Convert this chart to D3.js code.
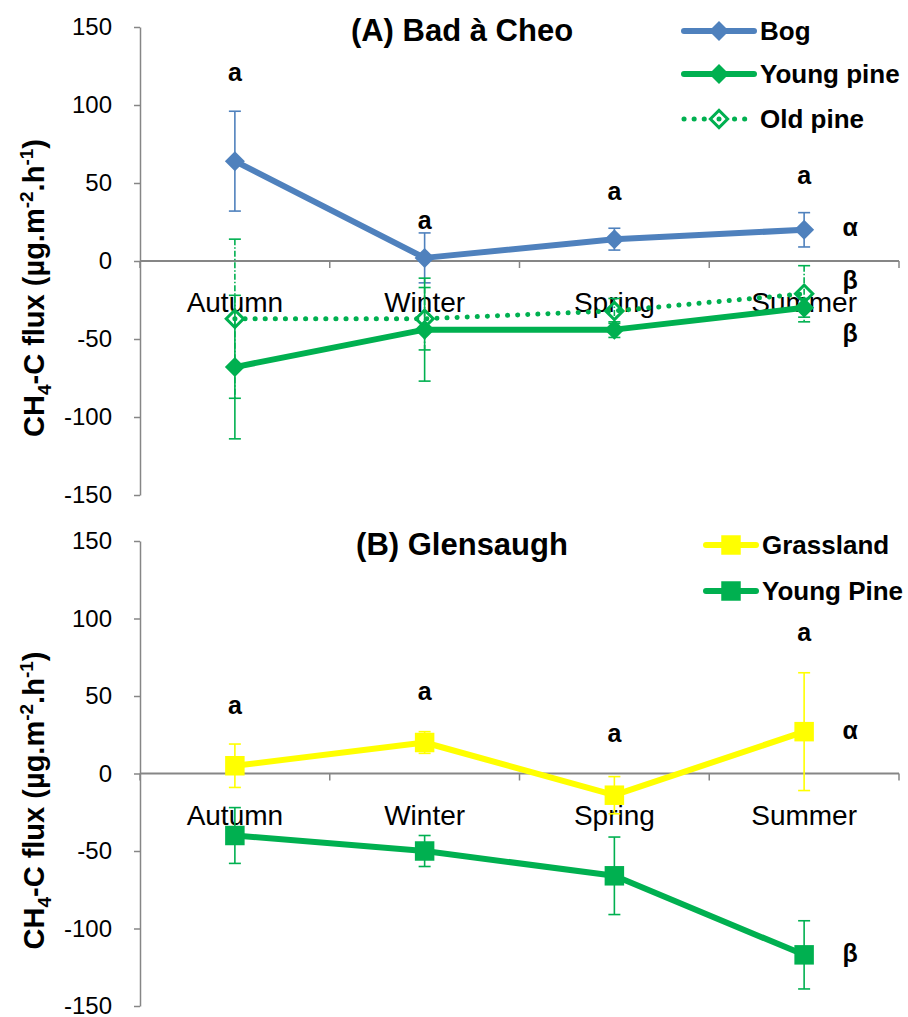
<!DOCTYPE html>
<html><head><meta charset="utf-8">
<script src="https://cdn.jsdelivr.net/npm/d3@7"></script>
<style>body{margin:0;background:#fff}svg{display:block}text{font-family:"Liberation Sans",Arial,sans-serif}</style>
</head><body>
<svg id="chart" width="908" height="1017"></svg>
<script>
const categories = ["Autumn","Winter","Spring","Summer"];
const yTicks = [-150,-100,-50,0,50,100,150];

// Panel A: Bad à Cheo
const bogMean = [64, 2, 14, 20];
const bogErr = [32, 16, 7, 11];
const youngPineAMean = [-68, -44, -44, -30];
const youngPineAErr = [46, 33, 5, 6];
const oldPineMean = [-37, -37, -32, -21];
const oldPineErr = [51, 20, 8, 18];
const lettersA = ["a","a","a","a"];
const lettersAValue = [121, 26, 45, 55];
const groupLabelsA = ["α","β","β"];
const groupLabelsAValue = [22, -12, -46];

// Panel B: Glensaugh
const grassMean = [5, 20, -14, 27];
const grassErr = [14, 7, 12, 38];
const youngPineBMean = [-40, -50, -66, -117];
const youngPineBErr = [18, 10, 25, 22];
const lettersB = ["a","a","a","a"];
const lettersBValue = [44, 53, 26, 91];
const groupLabelsB = ["α","β"];
const groupLabelsBValue = [28, -116];

const BLUE = "#4F81BD", GREEN = "#00B050", YELLOW = "#FFFF00", AXIS = "#868686";
const svg = d3.select("#chart");

function markerPath(s) {
  if (s.marker === "square") return d3.symbol().type(d3.symbolSquare).size(380)();
  return d3.symbol().type(d3.symbolSquare).size(s.open ? 150 : 200)();
}
function markerTransform(s, px, py) {
  return `translate(${px},${py})` + (s.marker === "square" ? "" : " rotate(45)");
}

function panel(cfg) {
  const g = svg.append("g");
  const x = d3.scaleBand().domain(categories).range([140, 899]);
  const cx = c => x(c) + x.bandwidth() / 2;
  const y = d3.scaleLinear().domain([-150, 150]).range([cfg.bottom, cfg.top]);

  // y axis
  const ya = g.append("g").attr("transform", "translate(140,0)")
    .call(d3.axisLeft(y).tickValues(yTicks).tickFormat(d => String(d))
      .tickSize(6).tickPadding(22).tickSizeOuter(0));
  ya.select(".domain").attr("stroke", AXIS).attr("stroke-width", 1.5);
  ya.selectAll(".tick line").attr("stroke", AXIS).attr("stroke-width", 1.5);
  ya.selectAll(".tick text").attr("font-size", 24).attr("fill", "#000")
    .attr("font-family", '"Liberation Sans",Arial,sans-serif');

  // x axis at zero
  const y0 = y(0);
  g.append("line").attr("x1", 140).attr("x2", 899).attr("y1", y0).attr("y2", y0)
    .attr("stroke", AXIS).attr("stroke-width", 2);
  const edges = categories.map(c => x(c)).concat([x.range()[1]]);
  g.selectAll(".xt").data(edges).join("line")
    .attr("x1", d => d).attr("x2", d => d).attr("y1", y0).attr("y2", y0 + 7)
    .attr("stroke", AXIS).attr("stroke-width", 1.5);
  g.selectAll(".xl").data(categories).join("text")
    .attr("x", d => cx(d)).attr("y", y0 + 51).attr("text-anchor", "middle")
    .attr("font-size", 28).text(d => d);

  // title
  g.append("text").attr("x", 462).attr("y", cfg.top + 14).attr("text-anchor", "middle")
    .attr("font-size", 31).attr("font-weight", "bold").text(cfg.title);

  // y axis title
  const t = g.append("text")
    .attr("transform", `translate(44,${(cfg.top + cfg.bottom) / 2 + 27}) rotate(-90)`)
    .attr("text-anchor", "middle").attr("font-size", 29).attr("font-weight", "bold");
  t.append("tspan").text("CH");
  t.append("tspan").attr("font-size", 19).attr("dy", 7).text("4");
  t.append("tspan").attr("dy", -7).text("-C flux (µg.m");
  t.append("tspan").attr("font-size", 19).attr("dy", -11).text("-2");
  t.append("tspan").attr("dy", 11).text(".h");
  t.append("tspan").attr("font-size", 19).attr("dy", -11).text("-1");
  t.append("tspan").attr("dy", 11).text(")");

  // series
  cfg.series.forEach(s => {
    const pts = categories.map((c, i) => ({c, v: s.mean[i], e: s.err[i]}));
    // error bars
    const eg = g.append("g").attr("stroke", s.color).attr("stroke-width", 1.6);
    pts.forEach(p => {
      eg.append("line").attr("x1", cx(p.c)).attr("x2", cx(p.c))
        .attr("y1", y(p.v + p.e)).attr("y2", y(p.v - p.e))
        .attr("stroke-dasharray", s.dashedErr ? "6,2,1.5,2" : null);
      [p.v + p.e, p.v - p.e].forEach(v => eg.append("line")
        .attr("x1", cx(p.c) - 6).attr("x2", cx(p.c) + 6).attr("y1", y(v)).attr("y2", y(v)));
    });
    // line
    g.append("path").datum(pts)
      .attr("d", d3.line().x(p => cx(p.c)).y(p => y(p.v)))
      .attr("fill", "none").attr("stroke", s.color)
      .attr("stroke-width", s.dotted ? 5 : 6)
      .attr("stroke-linecap", "round").attr("stroke-linejoin", "round")
      .attr("stroke-dasharray", s.dotted ? "0.1,10" : null);
    // markers
    g.selectAll(null).data(pts).join("path")
      .attr("transform", p => markerTransform(s, cx(p.c), y(p.v)))
      .attr("d", markerPath(s))
      .attr("fill", s.open ? "none" : s.color)
      .attr("stroke", s.open ? s.color : "none").attr("stroke-width", s.open ? 3 : 0);
  });

  // letters above
  const lx = categories.map(c => cx(c));
  g.selectAll(".lt").data(cfg.letters).join("text")
    .attr("x", (d, i) => lx[i]).attr("y", (d, i) => y(cfg.lettersValue[i]) + 9)
    .attr("text-anchor", "middle").attr("font-size", 25).attr("font-weight", "bold").text(d => d);
  g.selectAll(".gl").data(cfg.groups).join("text")
    .attr("x", cx("Summer") + 46).attr("y", (d, i) => y(cfg.groupsValue[i]) + 9)
    .attr("text-anchor", "middle").attr("font-size", 25).attr("font-weight", "bold").text(d => d);

  // legend
  cfg.series.forEach((s, i) => {
    const ly = cfg.legendY[i];
    const lg = g.append("g");
    lg.append("line").attr("x1", cfg.legendX[0]).attr("x2", cfg.legendX[1]).attr("y1", ly).attr("y2", ly)
      .attr("stroke", s.color).attr("stroke-width", s.dotted ? 5 : 6).attr("stroke-linecap", "round")
      .attr("stroke-dasharray", s.dotted ? "0.1,10" : null);
    const mx = (cfg.legendX[0] + cfg.legendX[1]) / 2;
    lg.append("path").attr("d", markerPath(s))
      .attr("transform", markerTransform(s, mx, ly))
      .attr("fill", s.open ? "#fff" : s.color).attr("stroke", s.open ? s.color : "none").attr("stroke-width", 3);
    if (s.open) lg.append("circle").attr("cx", mx).attr("cy", ly).attr("r", 2.5).attr("fill", s.color);
    lg.append("text").attr("x", cfg.legendX[1] + 6).attr("y", ly + 9)
      .attr("font-size", 26).attr("font-weight", "bold").text(s.name);
  });
}

panel({
  title: "(A) Bad à Cheo", top: 27, bottom: 495,
  series: [
    {name: "Bog", mean: bogMean, err: bogErr, color: BLUE, marker: "diamond"},
    {name: "Young pine", mean: youngPineAMean, err: youngPineAErr, color: GREEN, marker: "diamond"},
    {name: "Old pine", mean: oldPineMean, err: oldPineErr, color: GREEN, marker: "diamond", open: true, dotted: true, dashedErr: true}
  ],
  letters: lettersA, lettersValue: lettersAValue, groups: groupLabelsA, groupsValue: groupLabelsAValue,
  legendX: [684, 754], legendY: [31, 74, 119]
});
panel({
  title: "(B) Glensaugh", top: 541, bottom: 1006,
  series: [
    {name: "Grassland", mean: grassMean, err: grassErr, color: YELLOW, marker: "square"},
    {name: "Young Pine", mean: youngPineBMean, err: youngPineBErr, color: GREEN, marker: "square"}
  ],
  letters: lettersB, lettersValue: lettersBValue, groups: groupLabelsB, groupsValue: groupLabelsBValue,
  legendX: [706, 756], legendY: [545, 591]
});
</script>
</body></html>
